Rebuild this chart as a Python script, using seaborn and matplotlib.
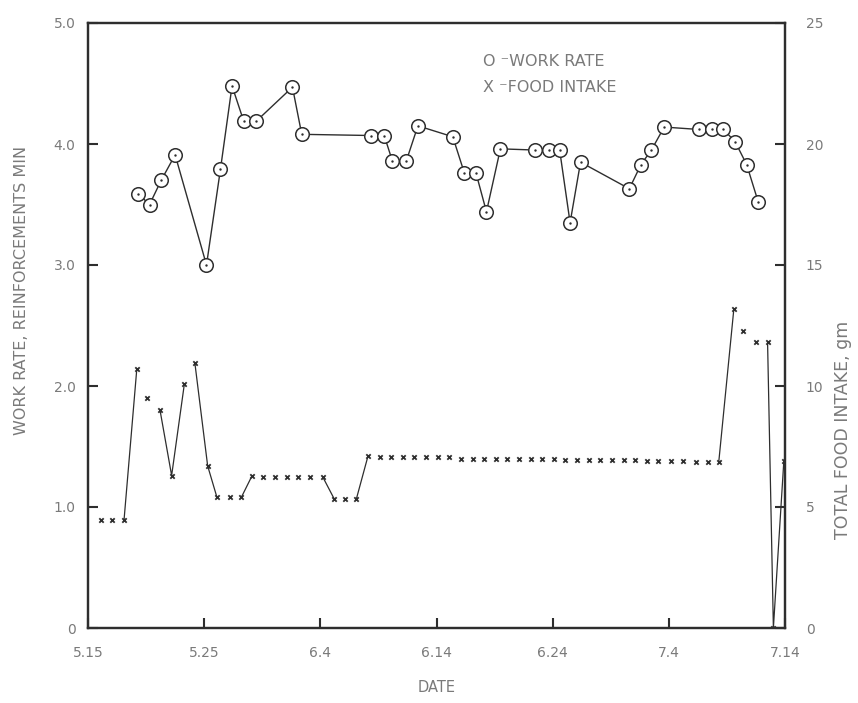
import numpy as np
import pandas as pd
import matplotlib
matplotlib.use("Agg")
import matplotlib.pyplot as plt
import seaborn as sns

# ---------------- data (days counted from May 15) ----------------
work_day = [4.3, 5.3, 6.3, 7.5, 10.2, 11.4, 12.4, 13.4, 14.5, 17.6, 18.4,
            24.4, 25.5, 26.2, 27.4, 28.4, 31.4, 32.4, 33.4, 34.3, 35.5,
            38.5, 39.7, 40.6, 41.5, 42.4, 46.6, 47.6, 48.5, 49.6, 52.6,
            53.7, 54.7, 55.7, 56.7, 57.7]
work_rate = [3.59, 3.50, 3.70, 3.91, 3.00, 3.79, 4.48, 4.19, 4.19, 4.47, 4.08,
             4.07, 4.07, 3.86, 3.86, 4.15, 4.06, 3.76, 3.76, 3.44, 3.96,
             3.95, 3.95, 3.95, 3.35, 3.85, 3.63, 3.83, 3.95, 4.14, 4.12,
             4.12, 4.12, 4.02, 3.83, 3.52]

food_day = [1.1, 2.1, 3.1, 4.2, 5.1, 6.2, 7.2, 8.3, 9.2, 10.3,
            11.1, 12.2, 13.2, 14.1, 15.1, 16.1, 17.1, 18.1, 19.1, 20.2,
            21.2, 22.1, 23.1, 24.1, 25.1, 26.1, 27.1, 28.1, 29.1, 30.1,
            31.1, 32.1, 33.1, 34.1, 35.1, 36.1, 37.1, 38.1, 39.1, 40.1,
            41.1, 42.1, 43.1, 44.1, 45.1, 46.1, 47.1, 48.1, 49.1, 50.2,
            51.2, 52.3, 53.4, 54.3, 55.6, 56.4, 57.5, 58.5, 59.0, 59.9]
food_gm = [4.45, 4.45, 4.45, 10.7, 9.5, 9.0, 6.3, 10.1, 10.95, 6.7,
           5.4, 5.4, 5.4, 6.27, 6.25, 6.25, 6.25, 6.25, 6.25, 6.25,
           5.33, 5.33, 5.33, 7.1, 7.08, 7.08, 7.08, 7.08, 7.08, 7.08,
           7.05, 7.0, 7.0, 7.0, 7.0, 7.0, 7.0, 7.0, 7.0, 6.98,
           6.95, 6.95, 6.95, 6.95, 6.95, 6.93, 6.93, 6.92, 6.9, 6.9,
           6.9, 6.88, 6.87, 6.87, 13.2, 12.26, 11.8, 11.8, 0.0, 6.9]
# True = joined by a line to the previous point
food_join = [False, False, False, True, False, False, True, True, False, True,
             True, False, False, True, False, False, False, False, False, False,
             True, False, False, True, False, False, False, False, False, False,
             False, False, False, False, False, False, False, False, False, False,
             False, False, False, False, False, False, False, False, False, False,
             False, False, False, False, True, False, False, False, True, True]

date_ticks = [0, 10, 20, 30, 40, 50, 60]
date_labels = ["5.15", "5.25", "6.4", "6.14", "6.24", "7.4", "7.14"]
rate_ticks = [0, 1, 2, 3, 4, 5]
rate_labels = ["0", "1.0", "2.0", "3.0", "4.0", "5.0"]
food_ticks = [0, 5, 10, 15, 20, 25]
food_labels = ["0", "5", "10", "15", "20", "25"]

# ---------------- styling ----------------
sns.set_theme(style="white")
plt.rcParams["font.family"] = ["DejaVu Sans"]
INK = "#2e2e2e"
TXT = "#7a7a7a"

fig = plt.figure(figsize=(8.58, 7.03), dpi=100)
fig.patch.set_facecolor("white")
ax = fig.add_axes([88 / 858, 75 / 703, 697 / 858, 605 / 703])
ax.set_facecolor("white")

# work rate
sns.lineplot(x=work_day, y=work_rate, ax=ax, color=INK, lw=1.0,
             sort=False, estimator=None, zorder=2)
sns.scatterplot(x=work_day, y=work_rate, ax=ax, marker="o", s=95,
                facecolor="white", edgecolor=INK, linewidth=1.1, zorder=3)
sns.scatterplot(x=work_day, y=work_rate, ax=ax, marker="o", s=3,
                color=INK, linewidth=0, zorder=4)

ax.set_xlim(0, 60)
ax.set_ylim(0, 5)
ax.set_xticks(date_ticks)
ax.set_xticklabels(date_labels)
ax.set_yticks(rate_ticks)
ax.set_yticklabels(rate_labels)
ax.set_xlabel("")
ax.set_ylabel("")

# food intake
ax2 = ax.twinx()
seg = np.cumsum([0 if j else 1 for j in food_join])
df_food = pd.DataFrame({"day": food_day, "gm": food_gm, "seg": seg})
sns.lineplot(data=df_food, x="day", y="gm", units="seg", estimator=None,
             sort=False, ax=ax2, color=INK, lw=0.9, zorder=2)
sns.scatterplot(data=df_food, x="day", y="gm", ax=ax2, marker="x", s=10,
                color=INK, linewidth=1.3, zorder=3)
ax2.set_ylim(0, 25)
ax2.set_yticks(food_ticks)
ax2.set_yticklabels(food_labels)
ax2.set_xlabel("")
ax2.set_ylabel("")

for a in (ax, ax2):
    for s in a.spines.values():
        s.set_visible(True)
        s.set_color(INK)
        s.set_linewidth(1.6)

ax.tick_params(axis="x", direction="in", length=7, width=1.5, color=INK,
               bottom=True, top=False, labelsize=10, labelcolor=TXT, pad=13)
ax.tick_params(axis="y", direction="in", length=7, width=1.5, color=INK,
               left=True, right=False, labelsize=10, labelcolor=TXT, pad=9)
ax2.tick_params(axis="y", direction="in", length=7, width=1.5, color=INK,
                left=False, right=True, labelsize=10, labelcolor=TXT, pad=15)

# axis titles and key
fig.text(437 / 858, 1 - 688 / 703, "DATE", ha="center", va="center",
         fontsize=10.5, color=TXT)
fig.text(22 / 858, 1 - 290 / 703, "WORK RATE, REINFORCEMENTS MIN",
         rotation=90, ha="center", va="center", fontsize=11.5, color=TXT)
fig.text(843 / 858, 1 - 430 / 703, "TOTAL FOOD INTAKE, gm",
         rotation=90, ha="center", va="center", fontsize=12.5, color=TXT)
fig.text(483 / 858, 1 - 62 / 703, "O \u207bWORK RATE", ha="left",
         va="center", fontsize=11.5, color=TXT)
fig.text(483 / 858, 1 - 88 / 703, "X \u207bFOOD INTAKE", ha="left",
         va="center", fontsize=11.5, color=TXT)

fig.savefig("out.png", dpi=100, facecolor="white")
